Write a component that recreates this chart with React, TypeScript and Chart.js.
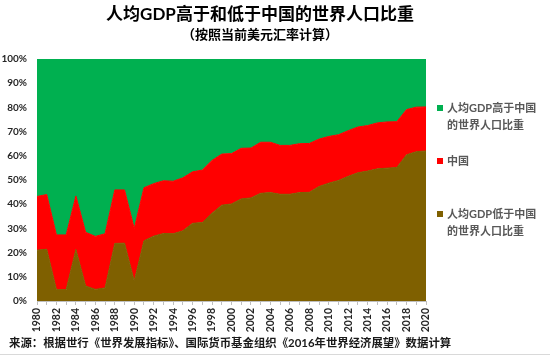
import { useEffect, useRef } from 'react';
import { Chart, registerables } from 'chart.js';

Chart.register(...registerables);

const years = [
  '1980', '1981', '1982', '1983', '1984', '1985', '1986', '1987', '1988', '1989',
  '1990', '1991', '1992', '1993', '1994', '1995', '1996', '1997', '1998', '1999',
  '2000', '2001', '2002', '2003', '2004', '2005', '2006', '2007', '2008', '2009',
  '2010', '2011', '2012', '2013', '2014', '2015', '2016', '2017', '2018', '2019',
  '2020',
];

// 人均GDP低于中国的世界人口比重 (%)
const belowChina = [
  21.0, 21.4, 4.7, 4.7, 21.3, 6.2, 4.8, 5.4, 23.8, 23.9,
  8.3, 24.9, 26.8, 27.9, 27.8, 29.0, 32.1, 32.4, 36.3, 39.6,
  40.1, 42.2, 42.6, 44.5, 44.8, 44.1, 44.1, 44.8, 44.9, 47.3,
  48.7, 49.8, 51.5, 53.0, 53.7, 54.6, 54.9, 55.2, 60.4, 61.7,
  62.0,
];

// 中国 (%)
const chinaShare = [
  22.2, 22.6, 22.6, 22.6, 22.1, 22.2, 21.9, 22.4, 22.1, 22.0,
  21.7, 21.9, 21.7, 21.8, 21.7, 21.9, 21.3, 21.7, 21.8, 21.1,
  20.8, 20.9, 20.6, 21.1, 20.8, 20.2, 20.2, 20.2, 20.2, 19.6,
  19.3, 18.9, 18.9, 18.9, 18.8, 19.0, 19.1, 18.9, 18.7, 18.4,
  18.2,
];

// 人均GDP高于中国的世界人口比重 (%)
const aboveChina = [
  56.8, 56.0, 72.7, 72.7, 56.6, 71.6, 73.3, 72.2, 54.1, 54.1,
  70.0, 53.2, 51.5, 50.3, 50.5, 49.1, 46.6, 45.9, 41.9, 39.3,
  39.1, 36.9, 36.8, 34.4, 34.4, 35.7, 35.7, 35.0, 34.9, 33.1,
  32.0, 31.3, 29.6, 28.1, 27.5, 26.4, 26.0, 25.9, 20.9, 19.9,
  19.8,
];

// legend label lines for each series (bottom, middle, top)
const seriesNameLines = [
  ['人均GDP低于中国', '的世界人口比重'],
  ['中国'],
  ['人均GDP高于中国', '的世界人口比重'],
];

const titleText = '人均GDP高于和低于中国的世界人口比重';
const subtitleText = '（按照当前美元汇率计算）';
const sourceText = '来源：根据世行《世界发展指标》、国际货币基金组织《2016年世界经济展望》数据计算';

const COLORS = ['#7F6000', '#FF0000', '#00B050'];
const FONT = 'Lato, "Noto Sans CJK SC", sans-serif';

const decorPlugin = {
  id: 'decor',
  afterDraw(chart: any) {
    const ctx: CanvasRenderingContext2D = chart.ctx;
    ctx.save();
    // Title
    ctx.textAlign = 'center';
    ctx.textBaseline = 'middle';
    ctx.fillStyle = '#000000';
    ctx.font = `bold 17px ${FONT}`;
    ctx.fillText(titleText, 260, 15);
    ctx.font = `bold 13px ${FONT}`;
    ctx.fillText(subtitleText, 260, 35);

    // Legend (top to bottom: reversed dataset order)
    const legendCenters = [214, 161, 108];
    ctx.textAlign = 'left';
    ctx.font = `bold 11px ${FONT}`;
    chart.data.datasets.forEach((ds: any, i: number) => {
      const cy = legendCenters[i];
      ctx.fillStyle = ds.backgroundColor;
      ctx.fillRect(437, cy - 3, 6, 6);
      ctx.fillStyle = '#595959';
      seriesNameLines[i].forEach((ln, j) => {
        ctx.fillText(ln, 447, cy + j * 17);
      });
    });

    // Source
    ctx.fillStyle = '#1a1a1a';
    ctx.font = `bold 11.4px ${FONT}`;
    ctx.fillText(sourceText, 9, 343);

    // bottom border line
    ctx.strokeStyle = '#d9d9d9';
    ctx.lineWidth = 1;
    ctx.beginPath();
    ctx.moveTo(0, 354.5);
    ctx.lineTo(550, 354.5);
    ctx.stroke();
    ctx.restore();
  },
};

export default function App() {
  const ref = useRef<HTMLCanvasElement | null>(null);

  useEffect(() => {
    if (!ref.current) return;
    const series = [belowChina, chinaShare, aboveChina];
    const chart = new Chart(ref.current, {
      type: 'line',
      data: {
        labels: years,
        datasets: series.map((d, i) => ({
          label: seriesNameLines[i].join(''),
          data: d,
          backgroundColor: COLORS[i],
          borderColor: COLORS[i],
          borderWidth: 1,
          pointRadius: 0,
          tension: 0,
          fill: i === 0 ? 'origin' : '-1',
        })),
      },
      options: {
        responsive: false,
        animation: false,
        layout: { padding: { top: 59, right: 124, left: 0, bottom: 0 } },
        plugins: {
          legend: { display: false },
          title: { display: false },
          tooltip: { enabled: false },
        },
        scales: {
          x: {
            type: 'category',
            offset: false,
            grid: {
              display: true,
              drawOnChartArea: false,
              drawTicks: true,
              tickLength: 4,
              color: '#bfbfbf',
            },
            border: { display: true, color: '#bfbfbf' },
            ticks: {
              autoSkip: false,
              maxRotation: 90,
              minRotation: 90,
              padding: 3,
              color: '#262626',
              font: { family: FONT, size: 10.5, weight: 'bold' },
              callback: (_v: any, i: number) => (i % 2 === 0 ? years[i] : ''),
            },
            afterFit: (s: any) => {
              s.height = 55;
            },
          },
          y: {
            stacked: true,
            min: 0,
            max: 100,
            grid: { display: false, drawTicks: false },
            border: { display: false },
            ticks: {
              stepSize: 10,
              padding: 10,
              color: '#262626',
              font: { family: FONT, size: 10, weight: 'bold' },
              callback: (v: any) => `${v}%`,
            },
            afterFit: (s: any) => {
              s.width = 37;
            },
          },
        },
      },
      plugins: [decorPlugin],
    });
    return () => chart.destroy();
  }, []);

  return (
    <div style={{ position: 'absolute', left: 0, top: 0, width: 550, height: 356, background: '#ffffff' }}>
      <canvas ref={ref} width={550} height={356} />
    </div>
  );
}
